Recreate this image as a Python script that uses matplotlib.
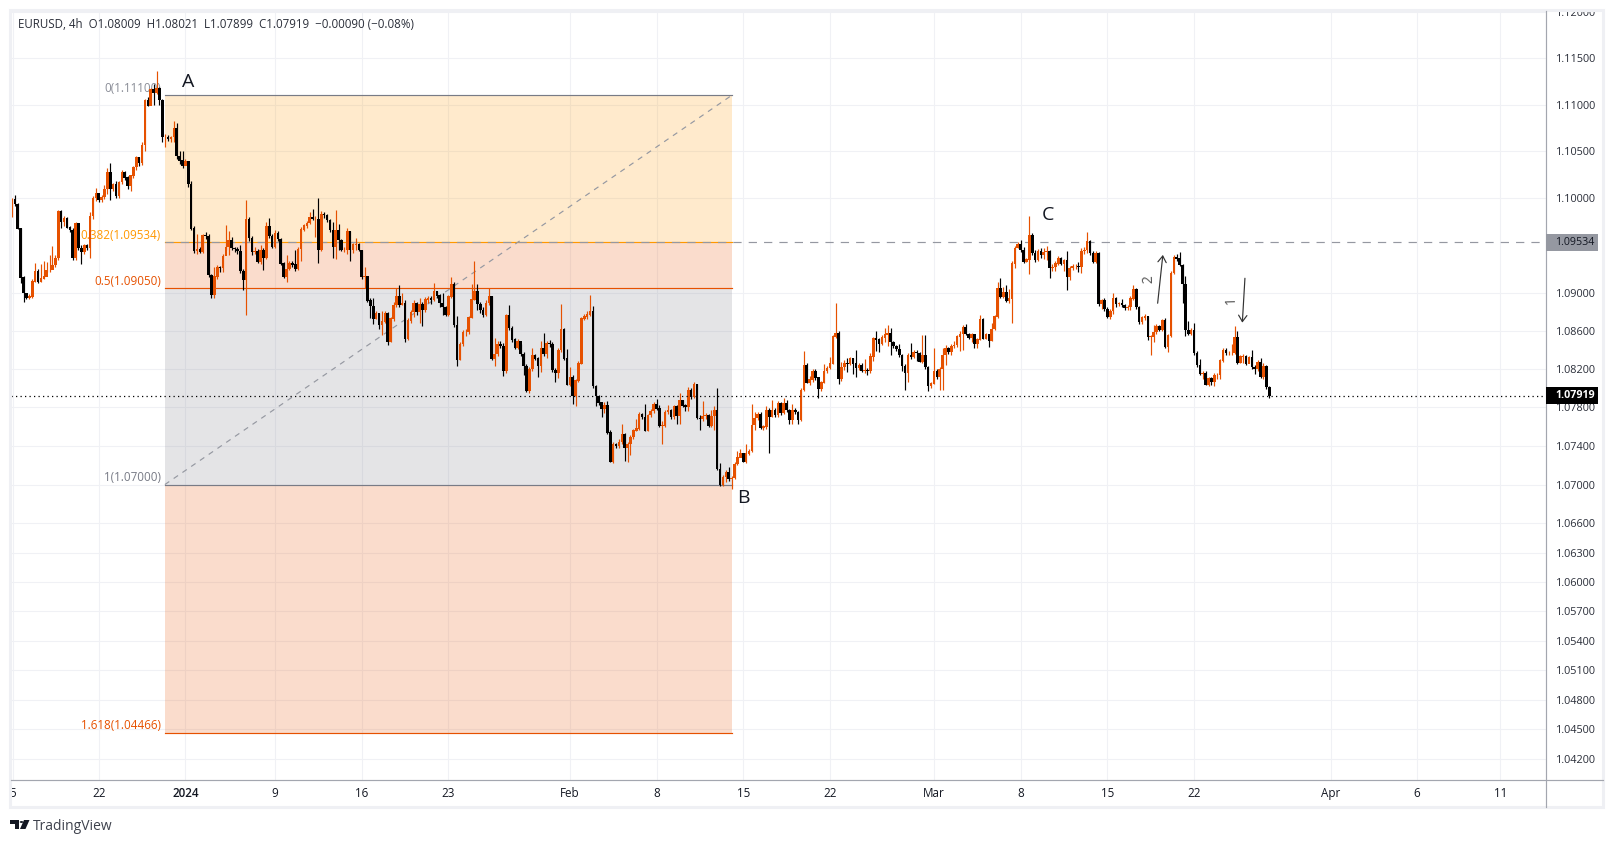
import numpy as np
import matplotlib
matplotlib.use('Agg')
import matplotlib.pyplot as plt
from matplotlib.lines import Line2D
from matplotlib.patches import Rectangle, Polygon, Circle

W, H = 1613, 843

first_open = 10993

# 4h candles, in 1/10000 of a dollar
closes = [
    10999, 10994, 10968, 10916, 10900, 10895, 10896, 10912, 10923, 10912,
    10915, 10917, 10924, 10924, 10929, 10937, 10986, 10975, 10979, 10969,
    10966, 10937, 10973, 10947, 10943, 10950, 10947, 10981, 11000, 11005,
    10998, 11001, 11010, 11028, 11010, 11015, 11003, 11017, 11028, 11022,
    11013, 11024, 11033, 11044, 11038, 11057, 11105, 11099, 11116, 11113,
    11118, 11105, 11065, 11065, 11063, 11065, 11075, 11045, 11040, 11035,
    11039, 11015, 10968, 10944, 10946, 10943, 10961, 10960, 10919, 10898,
    10917, 10927, 10926, 10939, 10948, 10956, 10947, 10946, 10944, 10923,
    10914, 10978, 10958, 10943, 10944, 10933, 10945, 10937, 10970, 10960,
    10949, 10963, 10957, 10931, 10917, 10925, 10931, 10930, 10925, 10946,
    10967, 10971, 10974, 10980, 10978, 10978, 10945, 10983, 10982, 10977,
    10966, 10949, 10966, 10956, 10945, 10945, 10965, 10945, 10951, 10951,
    10945, 10917, 10918, 10892, 10886, 10873, 10879, 10866, 10870, 10879,
    10849, 10873, 10887, 10896, 10887, 10889, 10852, 10871, 10880, 10889,
    10880, 10888, 10882, 10893, 10894, 10893, 10902, 10897, 10889, 10885,
    10877, 10896, 10909, 10866, 10830, 10846, 10859, 10859, 10874, 10893,
    10902, 10888, 10882, 10877, 10889, 10896, 10831, 10836, 10846, 10844,
    10818, 10876, 10863, 10851, 10842, 10849, 10836, 10823, 10797, 10820,
    10834, 10831, 10823, 10842, 10836, 10847, 10846, 10819, 10816, 10840,
    10862, 10831, 10804, 10812, 10792, 10808, 10826, 10873, 10875, 10877,
    10881, 10802, 10792, 10785, 10779, 10782, 10754, 10724, 10742, 10740,
    10744, 10752, 10738, 10742, 10749, 10756, 10758, 10773, 10770, 10756,
    10772, 10776, 10783, 10779, 10761, 10761, 10775, 10777, 10770, 10781,
    10771, 10787, 10782, 10781, 10798, 10791, 10804, 10769, 10768, 10771,
    10772, 10761, 10771, 10777, 10716, 10700, 10708, 10713, 10706, 10707,
    10721, 10728, 10732, 10724, 10732, 10735, 10762, 10769, 10773, 10759,
    10760, 10777, 10770, 10777, 10772, 10784, 10774, 10784, 10777, 10767,
    10777, 10775, 10767, 10798, 10824, 10806, 10809, 10818, 10811, 10799,
    10806, 10818, 10821, 10826, 10854, 10858, 10810, 10822, 10826, 10825,
    10831, 10826, 10821, 10824, 10818, 10819, 10818, 10833, 10852, 10851,
    10846, 10853, 10856, 10858, 10848, 10844, 10841, 10835, 10823, 10816,
    10835, 10833, 10838, 10837, 10828, 10835, 10822, 10802, 10805, 10818,
    10812, 10820, 10835, 10842, 10838, 10844, 10845, 10854, 10857, 10864,
    10857, 10853, 10856, 10846, 10851, 10872, 10852, 10856, 10850, 10862,
    10875, 10905, 10896, 10901, 10892, 10894, 10931, 10947, 10951, 10945,
    10933, 10935, 10961, 10942, 10935, 10944, 10940, 10943, 10944, 10926,
    10927, 10931, 10937, 10931, 10934, 10917, 10926, 10928, 10928, 10927,
    10944, 10945, 10954, 10942, 10933, 10942, 10888, 10892, 10883, 10875,
    10881, 10894, 10888, 10889, 10887, 10884, 10885, 10894, 10904, 10885,
    10869, 10874, 10875, 10854, 10854, 10859, 10865, 10861, 10871, 10843,
    10855, 10921, 10938, 10936, 10929, 10909, 10861, 10857, 10861, 10837,
    10824, 10815, 10816, 10804, 10810, 10807, 10814, 10814, 10829, 10840,
    10837, 10837, 10837, 10853, 10827, 10833, 10833, 10826, 10832, 10822,
    10820, 10827, 10812, 10823, 10801, 10792,
]
highs = [
    11000, 11003, 10995, 10968, 10918, 10900, 10899, 10914, 10931, 10925,
    10930, 10934, 10932, 10940, 10949, 10940, 10988, 10987, 10981, 10980,
    10970, 10968, 10975, 10974, 10950, 10952, 10952, 10985, 11002, 11011,
    11000, 11003, 11014, 11032, 11038, 11016, 11018, 11018, 11030, 11029,
    11024, 11025, 11034, 11045, 11044, 11060, 11106, 11108, 11118, 11122,
    11136, 11119, 11106, 11068, 11067, 11066, 11082, 11080, 11050, 11050,
    11042, 11040, 11018, 10970, 10962, 10948, 10962, 10964, 10962, 10920,
    10927, 10929, 10928, 10941, 10972, 10965, 10959, 10948, 10948, 10950,
    10925, 10998, 10980, 10960, 10948, 10946, 10950, 10947, 10975, 10979,
    10962, 10966, 10965, 10958, 10932, 10940, 10934, 10933, 10945, 10948,
    10969, 10973, 10976, 10985, 10989, 10981, 11000, 10986, 10985, 10983,
    10978, 10975, 10987, 10973, 10957, 10948, 10968, 10965, 10953, 10958,
    10953, 10945, 10927, 10918, 10895, 10895, 10881, 10879, 10881, 10881,
    10880, 10875, 10890, 10905, 10908, 10900, 10892, 10873, 10882, 10892,
    10890, 10894, 10890, 10896, 10897, 10897, 10910, 10902, 10899, 10900,
    10886, 10898, 10917, 10911, 10876, 10848, 10861, 10862, 10876, 10909,
    10933, 10909, 10890, 10885, 10892, 10905, 10897, 10852, 10849, 10849,
    10847, 10878, 10887, 10865, 10852, 10851, 10846, 10838, 10825, 10822,
    10842, 10836, 10833, 10849, 10858, 10849, 10850, 10848, 10821, 10842,
    10888, 10863, 10841, 10822, 10814, 10810, 10828, 10875, 10878, 10881,
    10898, 10886, 10803, 10793, 10782, 10786, 10787, 10756, 10744, 10743,
    10747, 10763, 10753, 10744, 10751, 10758, 10768, 10775, 10774, 10784,
    10773, 10778, 10786, 10789, 10782, 10766, 10777, 10782, 10778, 10782,
    10782, 10795, 10788, 10784, 10801, 10800, 10806, 10804, 10772, 10787,
    10774, 10773, 10777, 10781, 10800, 10722, 10710, 10715, 10718, 10709,
    10723, 10735, 10737, 10733, 10742, 10737, 10784, 10775, 10775, 10775,
    10762, 10781, 10779, 10788, 10779, 10787, 10786, 10790, 10788, 10778,
    10784, 10779, 10776, 10800, 10839, 10826, 10813, 10820, 10820, 10812,
    10808, 10825, 10823, 10833, 10856, 10889, 10860, 10827, 10829, 10832,
    10833, 10832, 10840, 10826, 10826, 10831, 10821, 10837, 10854, 10860,
    10852, 10856, 10863, 10866, 10863, 10849, 10845, 10846, 10836, 10825,
    10837, 10847, 10840, 10840, 10838, 10856, 10856, 10823, 10807, 10842,
    10820, 10822, 10842, 10845, 10843, 10846, 10849, 10856, 10860, 10866,
    10867, 10858, 10858, 10855, 10853, 10877, 10873, 10858, 10857, 10868,
    10877, 10911, 10916, 10906, 10908, 10904, 10933, 10949, 10954, 10956,
    10948, 10937, 10981, 10963, 10945, 10946, 10947, 10947, 10949, 10945,
    10930, 10933, 10939, 10938, 10936, 10944, 10928, 10930, 10930, 10932,
    10947, 10948, 10964, 10956, 10944, 10944, 10943, 10893, 10894, 10885,
    10883, 10900, 10896, 10890, 10893, 10888, 10887, 10897, 10908, 10905,
    10886, 10876, 10878, 10876, 10856, 10866, 10867, 10866, 10872, 10873,
    10857, 10923, 10940, 10941, 10943, 10930, 10918, 10870, 10863, 10868,
    10839, 10830, 10818, 10818, 10812, 10812, 10816, 10816, 10830, 10842,
    10842, 10839, 10846, 10865, 10860, 10835, 10836, 10835, 10834, 10840,
    10824, 10829, 10832, 10826, 10824, 10802,
]
lows = [
    10980, 10992, 10967, 10910, 10890, 10893, 10893, 10894, 10911, 10910,
    10911, 10914, 10922, 10922, 10926, 10927, 10935, 10968, 10970, 10968,
    10964, 10935, 10935, 10945, 10930, 10941, 10945, 10937, 10978, 10997,
    10996, 10996, 10999, 11005, 10998, 11008, 11000, 11000, 11015, 11019,
    11010, 11008, 11022, 11030, 11034, 11035, 11050, 11098, 11100, 11100,
    11111, 11100, 11060, 11055, 11061, 11060, 11060, 11042, 11036, 11032,
    11035, 11012, 10966, 10942, 10941, 10942, 10942, 10957, 10917, 10895,
    10895, 10915, 10922, 10922, 10945, 10940, 10945, 10943, 10941, 10921,
    10903, 10877, 10955, 10940, 10941, 10931, 10930, 10924, 10936, 10958,
    10947, 10947, 10955, 10929, 10916, 10911, 10924, 10927, 10923, 10924,
    10933, 10965, 10968, 10973, 10977, 10959, 10931, 10944, 10979, 10975,
    10964, 10937, 10936, 10945, 10944, 10943, 10941, 10934, 10942, 10945,
    10944, 10915, 10905, 10890, 10874, 10867, 10872, 10862, 10856, 10868,
    10845, 10848, 10870, 10885, 10885, 10887, 10848, 10850, 10868, 10875,
    10877, 10868, 10865, 10880, 10889, 10888, 10891, 10895, 10885, 10877,
    10876, 10876, 10894, 10864, 10823, 10829, 10844, 10855, 10857, 10873,
    10892, 10882, 10879, 10875, 10876, 10887, 10829, 10823, 10834, 10842,
    10813, 10816, 10861, 10848, 10841, 10841, 10834, 10814, 10796, 10795,
    10818, 10829, 10812, 10817, 10834, 10832, 10843, 10817, 10807, 10811,
    10838, 10829, 10803, 10802, 10784, 10781, 10806, 10825, 10871, 10872,
    10876, 10800, 10781, 10783, 10770, 10774, 10752, 10723, 10722, 10738,
    10738, 10742, 10724, 10723, 10731, 10747, 10755, 10756, 10768, 10755,
    10755, 10770, 10774, 10777, 10760, 10742, 10760, 10773, 10768, 10768,
    10763, 10763, 10780, 10776, 10776, 10789, 10790, 10768, 10756, 10766,
    10768, 10760, 10760, 10756, 10715, 10699, 10699, 10703, 10704, 10695,
    10706, 10720, 10728, 10723, 10722, 10731, 10734, 10756, 10767, 10758,
    10757, 10758, 10733, 10770, 10770, 10770, 10772, 10773, 10775, 10763,
    10763, 10773, 10763, 10766, 10797, 10805, 10803, 10807, 10809, 10790,
    10797, 10805, 10816, 10820, 10825, 10852, 10804, 10808, 10819, 10817,
    10824, 10815, 10812, 10819, 10817, 10816, 10814, 10816, 10828, 10839,
    10838, 10845, 10848, 10844, 10835, 10842, 10839, 10833, 10818, 10798,
    10807, 10831, 10832, 10828, 10827, 10826, 10820, 10797, 10800, 10804,
    10810, 10798, 10798, 10824, 10836, 10835, 10842, 10843, 10839, 10840,
    10856, 10851, 10848, 10842, 10842, 10850, 10851, 10851, 10843, 10849,
    10861, 10873, 10894, 10895, 10890, 10889, 10868, 10926, 10947, 10943,
    10931, 10932, 10920, 10940, 10932, 10933, 10937, 10936, 10935, 10916,
    10923, 10923, 10929, 10929, 10923, 10903, 10913, 10924, 10925, 10922,
    10921, 10941, 10942, 10940, 10931, 10931, 10886, 10883, 10881, 10873,
    10872, 10878, 10885, 10886, 10885, 10882, 10882, 10882, 10892, 10883,
    10867, 10867, 10871, 10850, 10835, 10848, 10857, 10860, 10860, 10842,
    10838, 10854, 10920, 10934, 10928, 10889, 10855, 10856, 10856, 10835,
    10822, 10814, 10810, 10803, 10802, 10803, 10802, 10810, 10810, 10827,
    10835, 10835, 10835, 10836, 10825, 10826, 10826, 10824, 10826, 10820,
    10815, 10818, 10811, 10810, 10799, 10790,
]

# x ticks sit on bar numbers, the later ones are future bars
x_tick_bars = [0.3, 30, 60, 91, 121, 151, 193, 223, 253, 283, 319, 349, 379, 409, 456.4, 486, 515]
x_tick_labels = ['5', '22', '2024', '9', '16', '23', 'Feb', '8', '15', '22', 'Mar', '8', '15', '22', 'Apr', '6', '11']

y_ticks = [1.12, 1.115, 1.11, 1.105, 1.10, 1.09, 1.086, 1.082, 1.078, 1.074, 1.07,
           1.066, 1.063, 1.06, 1.057, 1.054, 1.051, 1.048, 1.045, 1.042]

fib_levels = [1.11100, 1.09534, 1.09050, 1.07000, 1.04466]
fib_names = ['0(1.11100)', '0.382(1.09534)', '0.5(1.09050)', '1(1.07000)', '1.618(1.04466)']
fib_line_colors = ['#787B86', '#FF9800', '#E65100', '#787B86', '#E65100']
fib_text_colors = ['#8A8D97', '#FF9800', '#E65100', '#787B86', '#E65100']
fib_zone_colors = ['#FF9800', '#E65100', '#787B86', '#E65100']
fib_start, fib_end = 52.9, 249.1

last_price = 1.07919
retrace_price = 1.09534

UP = '#E65100'
DOWN = '#000000'
TEXT = '#131722'
FONT = 'Open Sans'


def fx(x):
    return x / W


def fy(y):
    return 1 - y / H


plt.rcParams['font.family'] = [FONT, 'DejaVu Sans']

fig = plt.figure(figsize=(W / 100, H / 100), dpi=100, facecolor='white')
ax = fig.add_axes([fx(11), fy(780), fx(1545.5 - 11), (780 - 11) / H])

c = np.array(closes) / 10000
o = np.concatenate([[first_open / 10000], c[:-1]])
hi = np.array(highs) / 10000
lo = np.array(lows) / 10000
xs = np.arange(len(c))
colors = [UP if cl >= op else DOWN for op, cl in zip(o, c)]

ax.set_yscale('log')
ax.set_xlim(-0.35, 530.6)
ax.set_ylim(1.03990, 1.12007)

ax.set_axisbelow(True)
ax.grid(True, color='#F0F1F5', linewidth=0.75)
for s in ax.spines.values():
    s.set_visible(False)

ax.set_xticks(x_tick_bars)
ax.set_xticklabels(x_tick_labels, fontsize=8.4, color=TEXT)
for lab in ax.get_xticklabels():
    if lab.get_text() == '2024':
        lab.set_fontweight('semibold')
ax.yaxis.tick_right()
ax.set_yticks(y_ticks)
ax.set_yticks([], minor=True)
ax.set_yticklabels(['%.5f' % v for v in y_ticks], fontsize=7.8, color='#2A2E39')
ax.tick_params(axis='x', length=0, pad=5)
ax.tick_params(axis='y', length=0, pad=7.5)

# fib zones
for k in range(4):
    ax.fill_between([fib_start, fib_end], fib_levels[k + 1], fib_levels[k],
                    color=fib_zone_colors[k], alpha=0.2, linewidth=0, zorder=1)
for lev, col in zip(fib_levels, fib_line_colors):
    ax.plot([fib_start, fib_end], [lev, lev], color=col, linewidth=0.85, zorder=1.5)
for lev, name, col in zip(fib_levels, fib_names, fib_text_colors):
    ax.annotate(name, xy=(fib_start, lev), xytext=(-4, 7), textcoords='offset pixels',
                ha='right', va='center', fontsize=8.4, color=col, zorder=2)
ax.plot([fib_start, fib_end], [fib_levels[3], fib_levels[0]], color='#9598A1',
        linewidth=0.85, linestyle=(0, (4.5, 4.5)), zorder=1.6)
ax.plot([fib_start, 530.6], [retrace_price, retrace_price], color='#9598A1',
        linewidth=0.85, linestyle=(0, (7, 6)), zorder=1.7)

# candles
ax.vlines(xs, lo, hi, colors=colors, linewidth=0.85, zorder=3)
ax.bar(xs, np.abs(c - o) + 0.00004, bottom=np.minimum(o, c) - 0.00002, width=0.9,
       color=colors, linewidth=0, zorder=3.1)

ax.axhline(last_price, color='black', linewidth=0.9, linestyle=(0, (1, 2.6)), zorder=4)

# hand drawn notes
note_font = dict(fontsize=14, color='#131722', ha='center', va='center', zorder=5)
ax.text(60.9, 1.1124, 'A', **note_font)
ax.text(253, 1.0686, 'B', **note_font)
ax.text(358.5, 1.0982, 'C', **note_font)
ax.text(393.2, 1.09145, '2', rotation=92, fontsize=10, color='#555555', ha='center', va='center', zorder=5)
ax.text(421.8, 1.08924, '1', rotation=92, fontsize=10, color='#555555', ha='center', va='center', zorder=5)
arrow = dict(arrowstyle='->,head_length=0.45,head_width=0.3', color='#333333', linewidth=0.85,
             shrinkA=0, shrinkB=0)
ax.annotate('', xy=(398.2, 1.09399), xytext=(396.4, 1.08890), arrowprops=arrow, zorder=5)
ax.annotate('', xy=(425.7, 1.08686), xytext=(426.6, 1.09153), arrowprops=arrow, zorder=5)

# chart frame
frame = '#EFF0F4'
fig.add_artist(Rectangle((fx(0), fy(10)), 1, 10 / H, facecolor='white', edgecolor='none', zorder=8))
fig.add_artist(Rectangle((fx(10), fy(807)), fx(1593), 797 / H, facecolor='none',
                         edgecolor=frame, linewidth=2.2, zorder=9))
axis_col = '#A3A6AF'
fig.add_artist(Line2D([fx(11), fx(1603)], [fy(780), fy(780)], color=axis_col, linewidth=0.85, zorder=9))
fig.add_artist(Line2D([fx(1545.7), fx(1545.7)], [fy(11), fy(807)], color=axis_col, linewidth=0.85, zorder=9))

# price labels on the axis
fig.canvas.draw()
for price, bg, fg, weight in [(retrace_price, '#9598A1', '#131722', 'normal'),
                              (last_price, '#000000', '#FFFFFF', 'bold')]:
    y_disp = ax.transData.transform((0, price))[1]
    fig.add_artist(Rectangle((fx(1545.7), (y_disp - 8.5) / H), 52.5 / W, 17 / H,
                             facecolor=bg, edgecolor='none', zorder=10))
    fig.text(fx(1555.5), y_disp / H, '%.5f' % price, color=fg, fontsize=7.7, fontweight=weight,
             ha='left', va='center', zorder=11)

# legend line
fig.text(fx(18), fy(25), 'EURUSD, 4h  O1.08009  H1.08021  L1.07899  C1.07919  \u22120.00090 (\u22120.08%)',
         fontsize=8.3, color='#2A2E39', ha='left', va='center', zorder=11)

# logo
logo = '#131722'
fig.add_artist(Rectangle((fx(10), fy(823.5)), 8.5 / W, 3.5 / H, facecolor=logo, edgecolor='none'))
fig.add_artist(Rectangle((fx(14.5), fy(829)), 4 / W, 9 / H, facecolor=logo, edgecolor='none'))
fig.add_artist(Circle((fx(21.5), fy(822)), 1.8 / W, facecolor=logo, edgecolor='none'))
fig.add_artist(Polygon([(fx(24), fy(820)), (fx(29.5), fy(820)), (fx(25.5), fy(829)), (fx(20), fy(829))],
                       closed=True, facecolor=logo, edgecolor='none'))
fig.text(fx(33), fy(827), 'TradingView', fontsize=10, color='#3E424D', ha='left', va='center')

fig.savefig('out.png', dpi=100)
